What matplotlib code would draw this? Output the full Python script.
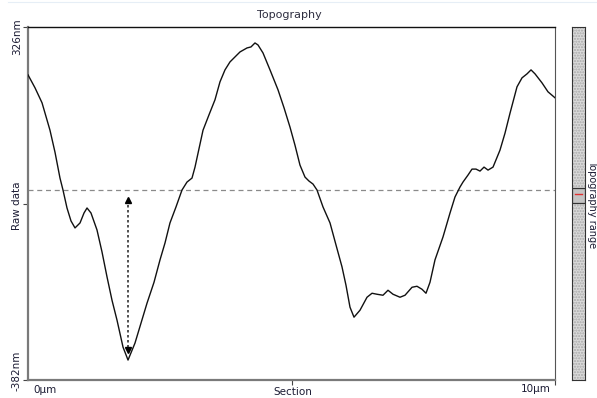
import numpy as np
import matplotlib
matplotlib.use("Agg")
import matplotlib.pyplot as plt
from matplotlib.lines import Line2D

# Section profile: position along the section (µm) and height (nm)
section_um = [0.0, 0.133, 0.266, 0.417, 0.512, 0.607, 0.664, 0.74, 0.816, 0.892,
              0.987, 1.063, 1.12, 1.195, 1.309, 1.404, 1.499, 1.594, 1.689, 1.803,
              1.898, 2.03, 2.144, 2.258, 2.391, 2.505, 2.6, 2.694, 2.808, 2.922,
              3.017, 3.112, 3.169, 3.321, 3.435, 3.548, 3.643, 3.738, 3.833, 3.928,
              4.023, 4.156, 4.231, 4.307, 4.364, 4.459, 4.592, 4.744, 4.858, 4.972,
              5.066, 5.161, 5.256, 5.332, 5.408, 5.484, 5.598, 5.731, 5.844, 5.958,
              6.034, 6.11, 6.186, 6.3, 6.433, 6.528, 6.622, 6.736, 6.831, 6.926,
              7.059, 7.154, 7.287, 7.381, 7.476, 7.552, 7.628, 7.723, 7.875, 8.008,
              8.102, 8.197, 8.254, 8.349, 8.425, 8.501, 8.577, 8.653, 8.729, 8.824,
              8.956, 9.051, 9.146, 9.279, 9.374, 9.469, 9.545, 9.621, 9.753, 9.867,
              10.0]
height_nm = [230, 204, 174, 119, 75, 23, -1, -37, -63, -77,
             -67, -47, -37, -47, -81, -125, -175, -222, -262, -316,
             -342, -308, -268, -228, -186, -141, -107, -67, -35, -1,
             15, 23, 45, 119, 150, 180, 216, 240, 256, 266,
             276, 284, 286, 294, 290, 274, 240, 200, 164, 125,
             89, 49, 25, 17, 11, -1, -35, -67, -111, -155,
             -192, -236, -256, -242, -216, -208, -210, -212, -202, -210,
             -216, -212, -196, -194, -200, -208, -186, -141, -95, -47,
             -15, 5, 15, 29, 41, 41, 37, 45, 39, 45,
             79, 113, 153, 206, 224, 232, 240, 232, 214, 196,
             184]

y_top = 326
y_bottom = -382
reference_level = 0
x_labels = ["0µm", "10µm"]
y_labels = ["326nm", "-382nm"]

W, H = 597, 398
fig = plt.figure(figsize=(W / 100, H / 100), dpi=100)
fig.patch.set_facecolor("white")


def fx(px):
    return px / W


def fy(py):
    return 1 - py / H


# Main profile axes
ax = fig.add_axes([fx(28), fy(380), fx(555) - fx(28), fy(27) - fy(380)])
ax.set_xlim(0, 10)
ax.set_ylim(y_bottom, y_top)

ax.axhline(reference_level, color="#8a8a8a", lw=0.9, ls=(0, (4, 3)), zorder=1)
ax.plot(section_um, height_nm, color="#111111", lw=1.0, zorder=3)

# Depth marker from the reference level down to the deepest point
i_min = int(np.argmin(height_nm))
x_min = section_um[i_min]
d_min = height_nm[i_min]
arrow_top = reference_level - 20
arrow_bottom = d_min + 20
ax.plot([x_min, x_min], [arrow_top, arrow_bottom], color="#333333", lw=1.2,
        ls=(0, (1.5, 1.5)), zorder=4)
ax.plot([x_min], [arrow_top], marker="^", color="black", ms=5, zorder=5)
ax.plot([x_min], [arrow_bottom], marker="v", color="black", ms=5, zorder=5)

for side in ("left", "bottom"):
    ax.spines[side].set_color("#7a7a7a")
    ax.spines[side].set_linewidth(1.6)
ax.spines["top"].set_color("#111111")
ax.spines["top"].set_linewidth(1.0)
ax.spines["right"].set_color("#555555")
ax.spines["right"].set_linewidth(0.8)

ax.set_yticks([y_bottom, (y_top + y_bottom) / 2, y_top])
ax.set_xticks([5, 10])
ax.tick_params(axis="both", direction="out", length=3.5, width=0.8,
               color="#444444", labelleft=False, labelbottom=False)

# Axis texts
lab_col = "#1c1c34"
fig.text(fx(17), fy(37), y_labels[0], rotation=90, ha="center", va="center",
         fontsize=7.5, color=lab_col)
fig.text(fx(17), fy(371), y_labels[1], rotation=90, ha="center", va="center",
         fontsize=7.5, color=lab_col)
fig.text(fx(17), fy(206), "Raw data", rotation=90, ha="center", va="center",
         fontsize=7.5, color=lab_col)
fig.text(fx(33), fy(390), x_labels[0], ha="left", va="center",
         fontsize=7.5, color=lab_col)
fig.text(fx(551), fy(389), x_labels[1], ha="right", va="center",
         fontsize=7.5, color=lab_col)
fig.text(fx(293), fy(392), "Section", ha="center", va="center",
         fontsize=7.5, color=lab_col)
fig.text(fx(289), fy(15), "Topography", ha="center", va="center",
         fontsize=8, color="#2e2e40")

# Range bar on the right
cax = fig.add_axes([fx(572), fy(380), fx(585) - fx(572), fy(27) - fy(380)])
cax.set_xlim(0, 13)
cax.set_ylim(y_bottom, y_top)
cax.add_patch(plt.Rectangle((0, y_bottom), 13, y_top - y_bottom,
                            facecolor="#dadada", edgecolor="#a8a8a8",
                            hatch="......", lw=0, zorder=1))
box_lo, box_hi = -27, 3
cax.add_patch(plt.Rectangle((0, box_lo), 13, box_hi - box_lo,
                            facecolor="#c4c4c4", edgecolor="#333333",
                            lw=0.9, zorder=3))
cax.plot([3, 10], [-9, -9], color="#e03030", lw=1.0, zorder=4)
for s in cax.spines.values():
    s.set_color("#333333")
    s.set_linewidth(0.8)
cax.set_xticks([])
cax.set_yticks([])
fig.text(fx(587), fy(160), "Topography range", rotation=-90, ha="left",
         va="top", fontsize=7, color=lab_col)

# Faint frame line along the top edge
fig.add_artist(Line2D([fx(8), 1], [fy(2), fy(2)], color="#e6eef6", lw=0.8))

fig.savefig("out.png", dpi=100)
